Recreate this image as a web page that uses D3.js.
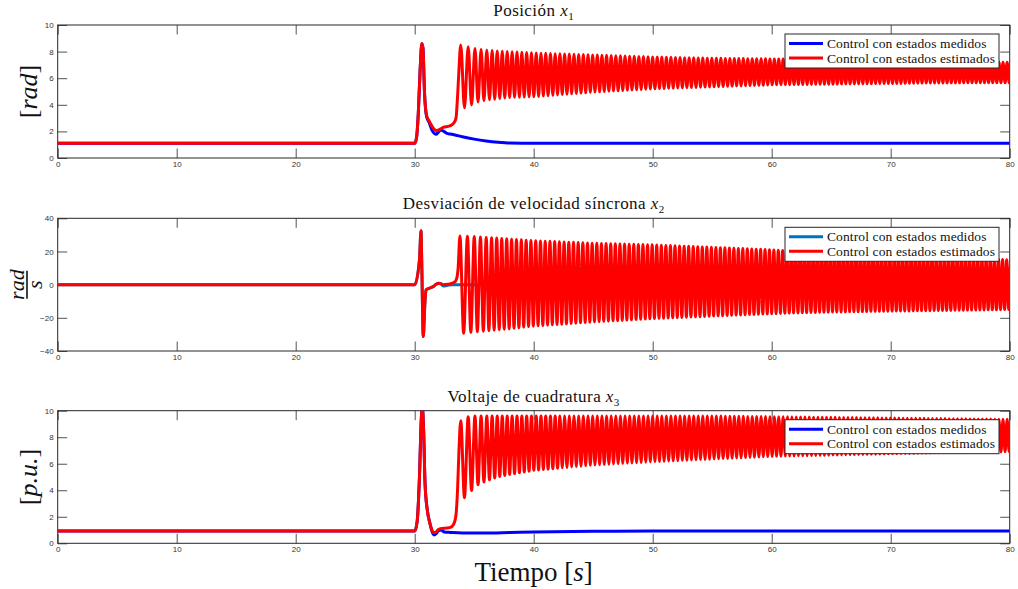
<!DOCTYPE html>
<html>
<head>
<meta charset="utf-8">
<script src="https://cdn.jsdelivr.net/npm/d3@7"></script>
<style>
body { margin: 0; background: #fff; }
svg { display: block; font-family: "Liberation Serif", "Times New Roman", serif; }
.tick text { font-family: "Liberation Sans", Arial, sans-serif; font-size: 8px; fill: #333; }
.tick line, .domain { stroke: #262626; }
</style>
</head>
<body>
<script>
const width = 1018, height = 589;

// ---- data ----
const timeTicks = [0, 10, 20, 30, 40, 50, 60, 70, 80];
const x1Ticks = [0, 2, 4, 6, 8, 10];
const x2Ticks = [-40, -20, 0, 20, 40];
const x3Ticks = [0, 2, 4, 6, 8, 10];

const legendNames = ["Control con estados medidos", "Control con estados estimados"];

// x1 (posicion) - measured-state control
const x1MedT = [0, 30, 30.15, 30.3, 30.45, 30.6, 30.7, 30.82, 31.0, 31.2, 31.45, 31.65, 31.8, 32.0, 32.2, 32.45, 32.7, 33.0, 33.3, 34, 35, 36, 37, 38, 40, 80];
const x1MedV = [1.1, 1.1, 1.5, 3.3, 6.5, 8.6, 8.2, 5.0, 3.1, 2.7, 2.1, 1.85, 1.78, 1.95, 2.1, 2.0, 1.85, 1.8, 1.75, 1.6, 1.42, 1.28, 1.18, 1.12, 1.1, 1.1];
// x1 - estimated-state control, transient before the sustained oscillation
const x1EstT = [0, 30, 30.15, 30.3, 30.45, 30.6, 30.7, 30.82, 31.0, 31.2, 31.45, 31.65, 31.85, 32.1, 32.4, 32.8, 33.1, 33.3, 33.47, 33.6, 33.7];
const x1EstV = [1.1, 1.1, 1.5, 3.3, 6.5, 8.6, 8.2, 5.0, 3.2, 2.8, 2.4, 2.15, 2.05, 2.15, 2.3, 2.38, 2.48, 2.65, 3.0, 4.6, 6.3];
const x1OscStart = 33.87;
const x1UpT = [33.87, 34.5, 35, 36, 38, 40, 45, 50, 55, 60, 65, 70, 75, 80];
const x1UpV = [8.5, 8.37, 8.25, 8.1, 8.0, 7.9, 7.75, 7.6, 7.5, 7.45, 7.4, 7.35, 7.25, 7.2];
const x1LoT = [34.1, 34.8, 35.3, 36, 37, 38, 40, 45, 50, 55, 60, 65, 70, 75, 80];
const x1LoV = [3.74, 4.0, 4.2, 4.35, 4.45, 4.55, 4.6, 4.95, 5.2, 5.35, 5.5, 5.55, 5.6, 5.65, 5.65];

// x2 (desviacion de velocidad)
const x2MedT = [0, 30, 30.4, 30.53, 30.6, 30.72, 30.85, 30.95, 31.2, 31.55, 31.8, 32.0, 32.2, 32.4, 32.7, 33.2, 80];
const x2MedV = [0, 0, 15, 32.5, 10, -31.3, -12, -3.2, -2.2, -1.2, 0.2, 0.8, 0.6, -0.8, -0.5, 0, 0];
const x2EstT = [0, 30, 30.4, 30.53, 30.6, 30.72, 30.85, 30.95, 31.2, 31.55, 31.8, 32.0, 32.4, 32.8, 33.1, 33.35, 33.53, 33.65];
const x2EstV = [0, 0, 15, 32.5, 10, -31.3, -12, -3.2, -2.2, -1.2, 0.2, 0.8, 0.0, 0.3, 0.8, 1.5, 3.8, 10];
const x2OscStart = 33.8;
const x2UpT = [33.8, 35, 36, 38, 40, 45, 50, 55, 60, 65, 70, 75, 80];
const x2UpV = [29.3, 29, 28.5, 27.5, 26.5, 25, 24, 22.5, 21, 19, 17.5, 16.5, 15];
const x2LoT = [33.97, 35, 36, 38, 40, 45, 50, 55, 60, 65, 70, 75, 80];
const x2LoV = [-29.5, -28.5, -28, -26.5, -25, -22.5, -20.5, -19, -17.5, -16.5, -16, -15.5, -15];

// x3 (voltaje de cuadratura)
const x3MedT = [0, 30, 30.2, 30.4, 30.55, 30.64, 30.75, 30.87, 31.06, 31.28, 31.45, 31.62, 31.8, 32.0, 32.2, 32.5, 33.0, 34, 36, 38, 40, 45, 50, 80];
const x3MedV = [0.92, 0.92, 1.6, 5.0, 9.3, 10.3, 8.5, 4.5, 2.5, 1.5, 0.9, 0.63, 0.72, 0.95, 1.0, 0.85, 0.82, 0.78, 0.78, 0.82, 0.86, 0.9, 0.92, 0.92];
const x3EstT = [0, 30, 30.2, 30.4, 30.55, 30.64, 30.75, 30.87, 31.06, 31.28, 31.45, 31.6, 31.8, 32.0, 32.3, 32.7, 33.0, 33.25, 33.45, 33.6, 33.72];
const x3EstV = [0.92, 0.92, 1.6, 5.0, 9.3, 10.3, 8.5, 4.5, 2.5, 1.5, 1.0, 0.8, 0.85, 1.05, 1.12, 1.15, 1.2, 1.4, 2.0, 4.0, 7.0];
const x3OscStart = 33.87;
const x3UpT = [33.87, 34.5, 35, 40, 50, 55, 65, 80];
const x3UpV = [9.25, 9.55, 9.6, 9.6, 9.6, 9.6, 9.5, 9.35];
const x3LoT = [34.14, 34.8, 35.3, 36, 37, 38, 40, 45, 50, 55, 60, 65, 70, 75, 80];
const x3LoV = [3.4, 4.0, 4.4, 4.7, 5.0, 5.2, 5.5, 5.9, 6.15, 6.35, 6.55, 6.65, 6.75, 6.85, 6.9];

// oscillation period (s) measured from peak spacing
const periodT = [33.8, 34.5, 35.1, 35.6, 36.0, 36.5, 37.0, 38, 40, 45, 50, 55, 60, 65, 70, 75, 80];
const periodV = [0.63, 0.57, 0.51, 0.48, 0.45, 0.43, 0.42, 0.41, 0.40, 0.39, 0.385, 0.38, 0.37, 0.36, 0.355, 0.35, 0.345];

// ---- layout ----
const left = 57.7, right = 1009.7;
const panels = [
  { top: 25, bottom: 158, domain: [0, 10], ticks: x1Ticks, blue: "#0000ff",
    title: ["Posición ", "x", "1"], med: [x1MedT, x1MedV], est: [x1EstT, x1EstV],
    osc: [x1OscStart, x1UpT, x1UpV, x1LoT, x1LoV] },
  { top: 218.3, bottom: 351, domain: [-40, 40], ticks: x2Ticks, blue: "#0072bd",
    title: ["Desviación de velocidad síncrona ", "x", "2"], med: [x2MedT, x2MedV], est: [x2EstT, x2EstV],
    osc: [x2OscStart, x2UpT, x2UpV, x2LoT, x2LoV] },
  { top: 410.7, bottom: 543.3, domain: [0, 10], ticks: x3Ticks, blue: "#0000ff",
    title: ["Voltaje de cuadratura ", "x", "3"], med: [x3MedT, x3MedV], est: [x3EstT, x3EstV],
    osc: [x3OscStart, x3UpT, x3UpV, x3LoT, x3LoV] }
];

const svg = d3.select("body").append("svg").attr("width", width).attr("height", height);
const x = d3.scaleLinear().domain([0, 80]).range([left, right]);
const period = d3.scaleLinear().domain(periodT).range(periodV).clamp(true);

function zipPts(ts, vs) { return ts.map((t, i) => [t, vs[i]]); }

// turning points of the sustained oscillation, peaks and troughs on the read envelopes
function oscillation(start, upT, upV, loT, loV) {
  const up = d3.scaleLinear().domain(upT).range(upV).clamp(true);
  const lo = d3.scaleLinear().domain(loT).range(loV).clamp(true);
  const pts = [];
  let t = start;
  while (t <= 80.6) {
    pts.push([t, up(t)]);
    const p = period(t);
    pts.push([t + p / 2, lo(t + p / 2)]);
    t += p;
  }
  return pts;
}

const tick = 9.5;

panels.forEach((P, k) => {
  const y = d3.scaleLinear().domain(P.domain).range([P.bottom, P.top]);
  const g = svg.append("g");

  const clipId = "clip" + k;
  svg.append("clipPath").attr("id", clipId).append("rect")
    .attr("x", left).attr("y", P.top).attr("width", right - left).attr("height", P.bottom - P.top);

  // axes
  g.append("g").attr("transform", `translate(0,${P.bottom})`)
    .call(d3.axisBottom(x).tickValues(timeTicks).tickSize(-tick).tickSizeOuter(0).tickPadding(3));
  g.append("g").attr("transform", `translate(0,${P.top})`)
    .call(d3.axisTop(x).tickValues(timeTicks).tickSize(-tick).tickSizeOuter(0).tickFormat(""));
  g.append("g").attr("transform", `translate(${left},0)`)
    .call(d3.axisLeft(y).tickValues(P.ticks).tickSize(-tick).tickSizeOuter(0).tickPadding(4));
  g.append("g").attr("transform", `translate(${right},0)`)
    .call(d3.axisRight(y).tickValues(P.ticks).tickSize(-tick).tickSizeOuter(0).tickFormat(""));
  g.selectAll(".domain").remove();
  g.selectAll(".tick line").attr("stroke-width", 0.8);
  g.append("rect").attr("x", left).attr("y", P.top)
    .attr("width", right - left).attr("height", P.bottom - P.top)
    .attr("fill", "none").attr("stroke", "#262626").attr("stroke-width", 1);

  // lines
  const line = d3.line().x(d => x(d[0])).y(d => y(d[1])).curve(d3.curveMonotoneX);
  const lines = g.append("g").attr("clip-path", `url(#${clipId})`);
  const medPts = zipPts(P.med[0], P.med[1]);
  const estPts = zipPts(P.est[0], P.est[1]).concat(oscillation(...P.osc));
  lines.append("path").attr("d", line(medPts)).attr("fill", "none")
    .attr("stroke", P.blue).attr("stroke-width", 3).attr("stroke-linejoin", "round");
  lines.append("path").attr("d", line(estPts)).attr("fill", "none")
    .attr("stroke", "#ff0000").attr("stroke-width", 3).attr("stroke-linejoin", "round");

  // title
  const tt = svg.append("text").attr("x", (left + right) / 2).attr("y", P.top - 9)
    .attr("text-anchor", "middle").attr("font-size", 17).attr("letter-spacing", 0.45).attr("fill", "#111");
  tt.append("tspan").text(P.title[0]);
  tt.append("tspan").attr("font-style", "italic").text(P.title[1]);
  tt.append("tspan").attr("font-size", 11).attr("dy", 4).text(P.title[2]);

  // legend
  const lx = 785, ly = P.top + 9, lw = 214, lh = 34;
  const lg = svg.append("g");
  lg.append("rect").attr("x", lx).attr("y", ly).attr("width", lw).attr("height", lh)
    .attr("fill", "#fff").attr("stroke", "#262626").attr("stroke-width", 1);
  [P.blue, "#ff0000"].forEach((c, i) => {
    const yy = ly + 9.5 + i * 14.5;
    lg.append("line").attr("x1", lx + 4).attr("x2", lx + 38).attr("y1", yy).attr("y2", yy)
      .attr("stroke", c).attr("stroke-width", 3);
    lg.append("text").attr("x", lx + 42).attr("y", yy + 4.5).attr("font-size", 13.5)
      .attr("letter-spacing", 0.12).attr("fill", "#111").text(legendNames[i]);
  });
});

// y labels
const midY = P => (P.top + P.bottom) / 2;
const l1 = svg.append("text").attr("transform", `translate(37,${midY(panels[0])}) rotate(-90)`)
  .attr("text-anchor", "middle").attr("font-size", 26).attr("fill", "#111");
l1.append("tspan").text("[");
l1.append("tspan").attr("font-style", "italic").text("rad");
l1.append("tspan").text("]");

const f2 = svg.append("g").attr("transform", `translate(27,${midY(panels[1])}) rotate(-90)`);
f2.append("text").attr("x", 0).attr("y", -3).attr("text-anchor", "middle")
  .attr("font-size", 22).attr("font-style", "italic").attr("fill", "#111").text("rad");
f2.append("line").attr("x1", -14).attr("x2", 14).attr("y1", 0).attr("y2", 0)
  .attr("stroke", "#111").attr("stroke-width", 1.6);
f2.append("text").attr("x", 0).attr("y", 14.5).attr("text-anchor", "middle")
  .attr("font-size", 22).attr("font-style", "italic").attr("fill", "#111").text("s");

const l3 = svg.append("text").attr("transform", `translate(37,${midY(panels[2])}) rotate(-90)`)
  .attr("text-anchor", "middle").attr("font-size", 26).attr("fill", "#111");
l3.append("tspan").text("[");
l3.append("tspan").attr("font-style", "italic").text("p.u.");
l3.append("tspan").text("]");

// x label
const xl = svg.append("text").attr("x", (left + right) / 2).attr("y", 581)
  .attr("text-anchor", "middle").attr("font-size", 27).attr("fill", "#111");
xl.append("tspan").text("Tiempo [");
xl.append("tspan").attr("font-style", "italic").text("s");
xl.append("tspan").text("]");
</script>
</body>
</html>
